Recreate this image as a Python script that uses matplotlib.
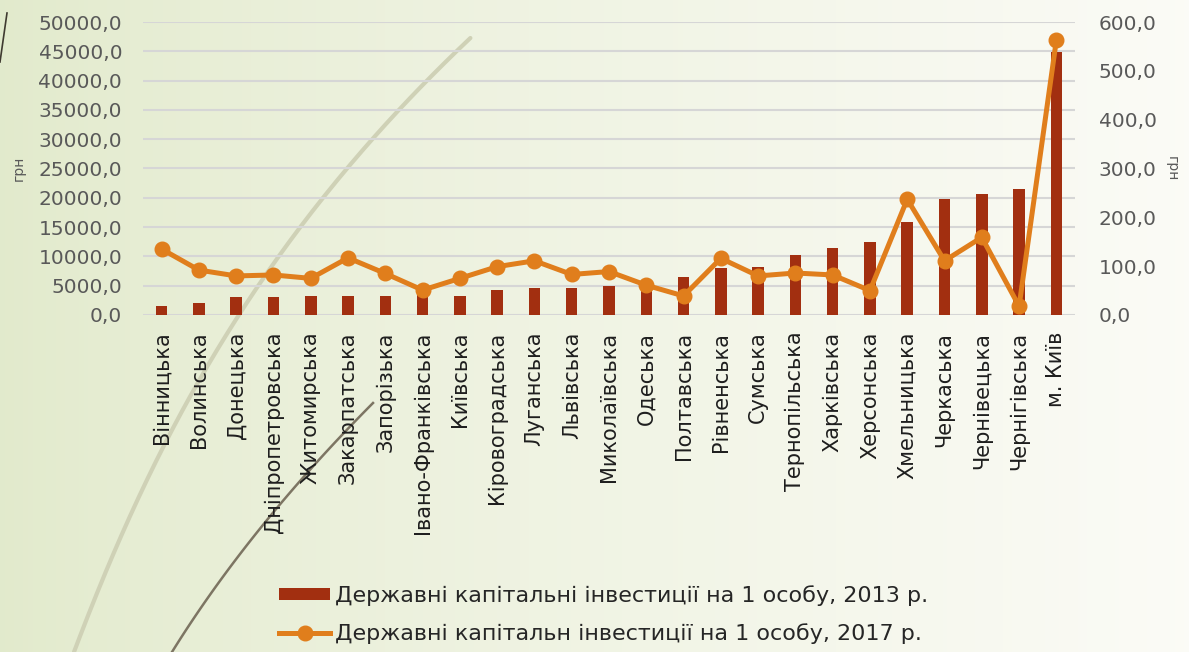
import numpy as np
import matplotlib
matplotlib.use("Agg")
import matplotlib.pyplot as plt
from matplotlib.ticker import FuncFormatter

regions = ["Вінницька", "Волинська", "Донецька", "Дніпропетровська", "Житомирська",
           "Закарпатська", "Запорізька", "Івано-Франківська", "Київська", "Кіровоградська",
           "Луганська", "Львівська", "Миколаївська", "Одеська", "Полтавська", "Рівненська",
           "Сумська", "Тернопільська", "Харківська", "Херсонська", "Хмельницька",
           "Черкаська", "Чернівецька", "Чернігівська", "м. Київ"]
inv_2013 = [1550, 2100, 3050, 3050, 3250, 3250, 3250, 3500, 3250, 4250,
            4550, 4550, 4950, 5300, 6450, 8000, 8250, 10250, 11350, 12400,
            15900, 19800, 20700, 21550, 44900]
inv_2017 = [135, 92, 80, 82, 75, 117, 85, 51, 75, 99,
            111, 83, 89, 61, 39, 116, 80, 86, 82, 50,
            237, 111, 159, 18, 563]
label_2013 = "Державні капітальні інвестиції на 1 особу, 2013 р."
label_2017 = "Державні капітальн інвестиції на 1 особу, 2017 р."

bar_color = "#A22F10"
line_color = "#E07E1C"
tick_color = "#595959"

fig = plt.figure(figsize=(11.89, 6.52), dpi=100)

# фон: градієнт + декоративні дуги
bg = fig.add_axes([0, 0, 1, 1], zorder=-10)
grad = np.linspace(0, 1, 256)
c0 = np.array([0.886, 0.918, 0.800])
c1 = np.array([0.985, 0.985, 0.965])
img = c0[None, :] + (c1 - c0)[None, :] * (grad[:, None] ** 0.8)
bg.imshow(img[None, :, :], aspect="auto", extent=[0, 1189, 652, 0])
ys = np.array([38, 110, 200, 330, 453, 652])
xs = np.array([470, 400, 320, 230, 160, 74])
p = np.polyfit(ys, xs, 3)
yy = np.linspace(38, 652, 200)
bg.plot(np.polyval(p, yy), yy, color="#cfd1b6", lw=3, solid_capstyle="round")
ys2 = np.array([403, 520, 652])
xs2 = np.array([373, 267, 172])
p2 = np.polyfit(ys2, xs2, 2)
yy2 = np.linspace(403, 652, 100)
bg.plot(np.polyval(p2, yy2), yy2, color="#7d7563", lw=1.8)
bg.plot([7, 0], [13, 62], color="#3f3a30", lw=1.2)
bg.set_xlim(0, 1189)
bg.set_ylim(652, 0)
bg.axis("off")

ax = fig.add_axes([143 / 1189, 1 - 315 / 652, 932 / 1189, 293 / 652])
ax.patch.set_alpha(0)
x = np.arange(len(regions))
ax.bar(x, inv_2013, width=0.31, color=bar_color, label=label_2013, zorder=2)
ax.set_xlim(-0.5, len(regions) - 0.5)
ax.set_ylim(0, 50000)
ax.set_yticks(np.arange(0, 50001, 5000))
ax.yaxis.set_major_formatter(FuncFormatter(lambda v, _: f"{v:.1f}".replace(".", ",")))
ax.grid(axis="y", color="#d6d6d6", lw=1.5, zorder=0)
ax.set_axisbelow(True)
for s in ax.spines.values():
    s.set_visible(False)
ax.tick_params(axis="y", length=0, pad=15, labelsize=14.5, labelcolor=tick_color)
ax.set_xticks(x)
ax.set_xticklabels(regions, rotation=90, fontsize=15, color="#1e1e1e")
ax.tick_params(axis="x", length=0, pad=12)
ax.set_ylabel("грн", fontsize=10, color=tick_color, labelpad=9)

ax2 = ax.twinx()
ax2.plot(x, inv_2017, color=line_color, lw=3.6, marker="o", ms=10.5,
         label=label_2017, zorder=3)
ax2.set_ylim(0, 600)
ax2.set_yticks(np.arange(0, 601, 100))
ax2.yaxis.set_major_formatter(FuncFormatter(lambda v, _: f"{v:.1f}".replace(".", ",")))
for s in ax2.spines.values():
    s.set_visible(False)
ax2.tick_params(axis="y", length=0, pad=17, labelsize=14.5, labelcolor=tick_color)
ax2.set_ylabel("грн", fontsize=10, color=tick_color, rotation=270, labelpad=16)

h1, l1 = ax.get_legend_handles_labels()
h2, l2 = ax2.get_legend_handles_labels()
fig.legend(h1 + h2, l1 + l2, loc="upper left", bbox_to_anchor=(259 / 1189, 1 - 565 / 652),
           frameon=False, fontsize=16, handlelength=2.3, handleheight=0.5,
           handletextpad=0.2, labelspacing=0.78, labelcolor="#262626")

fig.savefig("out.png", dpi=100)
